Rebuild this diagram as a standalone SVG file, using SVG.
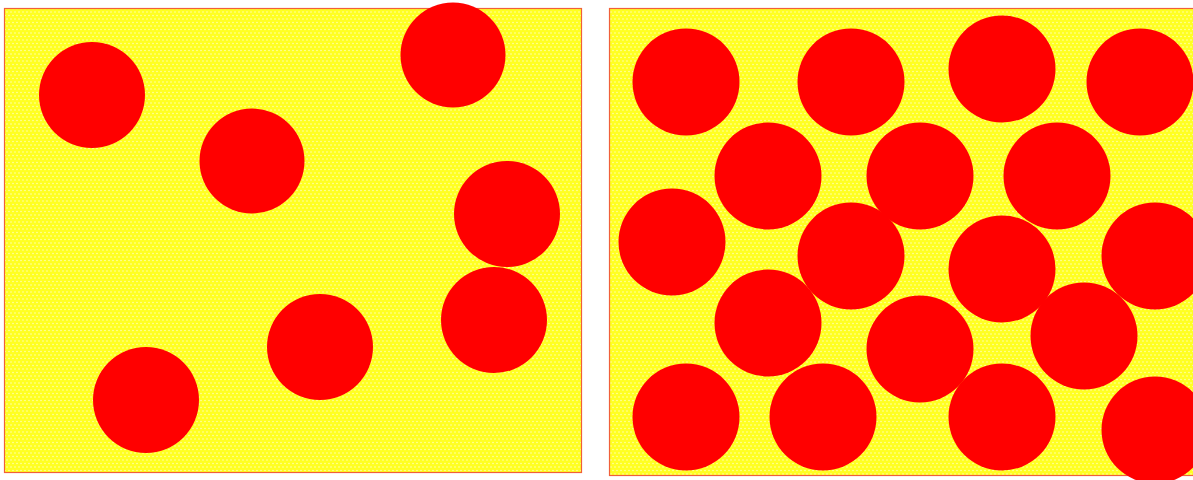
<svg xmlns="http://www.w3.org/2000/svg" width="1193" height="480" viewBox="0 0 1193 480">
<style>
.panel{fill:url(#dots);stroke:#f0603a;stroke-width:1.2}
.c{fill:#ff0000}
</style>
<defs>
<pattern id="dots" width="4" height="7" patternUnits="userSpaceOnUse">
<rect width="4" height="7" fill="#ffff22"/>
<circle cx="1" cy="1.5" r="0.8" fill="#ffffb0"/>
<circle cx="3" cy="5" r="0.8" fill="#ffffb0"/>
</pattern>
</defs>
<rect width="1193" height="480" fill="#fff"/>
<g id="panel-left">
<rect class="panel" x="4.5" y="8.5" width="577" height="464"/>
<circle class="c" cx="92" cy="95" r="53"/>
<circle class="c" cx="453" cy="55" r="52.5"/>
<circle class="c" cx="252" cy="161" r="52.5"/>
<circle class="c" cx="507" cy="214" r="53"/>
<circle class="c" cx="494" cy="320" r="53"/>
<circle class="c" cx="320" cy="347" r="53"/>
<circle class="c" cx="146" cy="400" r="53"/>
</g>
<g id="panel-right">
<rect class="panel" x="609.5" y="8.5" width="600" height="467"/>
<circle class="c" cx="686" cy="82" r="53.5"/>
<circle class="c" cx="851" cy="82" r="53.5"/>
<circle class="c" cx="1002" cy="69" r="53.5"/>
<circle class="c" cx="1140" cy="82" r="53.5"/>
<circle class="c" cx="768" cy="176" r="53.5"/>
<circle class="c" cx="920" cy="176" r="53.5"/>
<circle class="c" cx="1057" cy="176" r="53.5"/>
<circle class="c" cx="672" cy="242" r="53.5"/>
<circle class="c" cx="851" cy="256" r="53.5"/>
<circle class="c" cx="1002" cy="269" r="53.5"/>
<circle class="c" cx="1155" cy="256" r="53.5"/>
<circle class="c" cx="768" cy="323" r="53.5"/>
<circle class="c" cx="920" cy="349" r="53.5"/>
<circle class="c" cx="1084" cy="336" r="53.5"/>
<circle class="c" cx="686" cy="417" r="53.5"/>
<circle class="c" cx="823" cy="417" r="53.5"/>
<circle class="c" cx="1002" cy="417" r="53.5"/>
<circle class="c" cx="1155" cy="430" r="53.5"/>
</g>
</svg>
